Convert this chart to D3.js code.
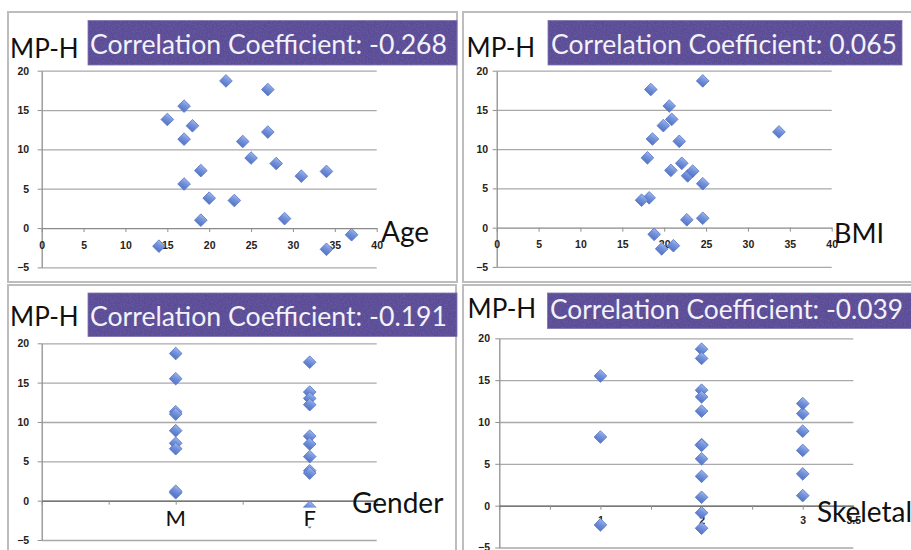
<!DOCTYPE html>
<html>
<head>
<meta charset="utf-8">
<script src="https://cdn.jsdelivr.net/npm/d3@7"></script>
<style>
  html, body { margin: 0; padding: 0; background: #fff; }
  svg { display: block; }
</style>
</head>
<body>
<svg id="chart" width="911" height="550"></svg>
<script>
// ---- data (one entry per subject) ----
const mph      = [13.8, 15.5, 13.0, 11.3, 5.6, 7.3, 3.8, 1.0, 18.7, 11.0, 8.9, 3.5, 17.6, 12.2, 8.2, 1.2, 6.6, 7.2, -2.3, -2.7, -0.85];
const age      = [15, 17, 18, 17, 17, 19, 20, 19, 22, 24, 25, 23, 27, 27, 28, 29, 31, 34, 14, 34, 37];
const bmi      = [20.9, 20.6, 19.9, 18.6, 24.6, 20.8, 18.2, 22.7, 24.6, 21.8, 18.0, 17.3, 18.4, 33.7, 22.1, 24.6, 22.8, 23.4, 21.1, 19.7, 18.8];
const gender   = ["F","M","F","M","F","M","F","M","M","M","M","F","F","F","F","M","M","F","F","F","F"];
const skeletal = [2, 1, 2, 2, 2, 2, 3, 2, 2, 3, 3, 2, 2, 3, 1, 3, 3, 2, 1, 2, 2];

const genderCategories = ["M", "F"];
const skeletalTickLabels = ["1", "2", "3", "3.5"];
const yTicks = [-5, 0, 5, 10, 15, 20];
const ageTicks = [0, 5, 10, 15, 20, 25, 30, 35, 40];
const yLabel = "MP-H";
const correlations = ["-0.268", "0.065", "-0.191", "-0.039"];
const xLabels = ["Age", "BMI", "Gender", "Skeletal"];

const genderValue = g => genderCategories.indexOf(g) + 1;

const svg = d3.select("#chart");
const defs = svg.append("defs");

const grad = defs.append("linearGradient").attr("id", "dia").attr("x1", 0).attr("y1", 0).attr("x2", 0.3).attr("y2", 1);
grad.append("stop").attr("offset", "0%").attr("stop-color", "#a3bbef");
grad.append("stop").attr("offset", "45%").attr("stop-color", "#7896dd");
grad.append("stop").attr("offset", "100%").attr("stop-color", "#5a7acb");

const f = defs.append("filter").attr("id", "noise").attr("x", 0).attr("y", 0).attr("width", "100%").attr("height", "100%");
f.append("feTurbulence").attr("type", "fractalNoise").attr("baseFrequency", 0.7).attr("numOctaves", 2).attr("seed", 4).attr("result", "t");
f.append("feColorMatrix").attr("in", "t").attr("type", "matrix")
  .attr("values", "0 0 0 0 1  0 0 0 0 1  0 0 0 0 1  0.55 0 0 0 -0.2").attr("result", "n");
f.append("feComposite").attr("in", "n").attr("in2", "SourceGraphic").attr("operator", "in");

// ---- panel frames ----
const frames = [
  {x: 8, y: 12, w: 449, h: 270},
  {x: 463, y: 12, w: 460, h: 270},
  {x: 8, y: 285, w: 448, h: 280},
  {x: 463, y: 285, w: 460, h: 280}
];
svg.selectAll("rect.frame").data(frames).join("rect")
  .attr("class", "frame")
  .attr("x", d => d.x).attr("y", d => d.y).attr("width", d => d.w).attr("height", d => d.h)
  .attr("fill", "#fff").attr("stroke", "#bdbdbd").attr("stroke-width", 2);

// ---- panels config built from data ----
const panels = [
  { xs: age, xDomain: [0, 40], xRange: [41.7, 376.7], yRange: [267.4, 70.7],
    xTicks: ageTicks, xFmt: d => d, yPad: 8.5, zeroColor: "#8a8a8a",
    box: {x: 88, y: 20.5, w: 369, h: 44.5, tx: 90, tw: 357, ty: 53.5},
    mph: {x: 10, y: 57.5}, xl: {x: 381, y: 241.5, size: 28}, xLabelDy: 13 },
  { xs: bmi, xDomain: [0, 40], xRange: [496.7, 831.7], yRange: [266.9, 70.7],
    xTicks: ageTicks, xFmt: d => d, yPad: 4.5, zeroColor: "#8a8a8a",
    box: {x: 548, y: 20.5, w: 354, h: 44.5, tx: 551, tw: 346, ty: 53.5},
    mph: {x: 466.5, y: 56.8}, xl: {x: 834, y: 243, size: 27}, xLabelDy: 13 },
  { xs: gender.map(genderValue), xDomain: [0, 2.5], xRange: [41.7, 376.7], yRange: [540, 343.3],
    xTicks: [0, 0.5, 1, 1.5, 2, 2.5], xFmt: () => "", yPad: 8.5, zeroColor: "#4a4a4a",
    box: {x: 88, y: 293, w: 369, h: 43.5, tx: 90, tw: 357, ty: 325.5},
    mph: {x: 10, y: 325.8}, xl: {x: 352, y: 513, size: 28}, xLabelDy: 13 },
  { xs: skeletal, xDomain: [0, 3.5], xRange: [499.3, 853.3], yRange: [547.5, 338.3],
    xTicks: [0, 0.5, 1, 1.5, 2, 2.5, 3, 3.5],
    xFmt: d => skeletalTickLabels.includes(String(d)) ? String(d) : "", yPad: 5.3, zeroColor: "#4a4a4a",
    box: {x: 547.5, y: 293, w: 364, h: 35.5, tx: 550, tw: 353, ty: 318.5},
    mph: {x: 467.5, y: 317.5}, xl: {x: 817, y: 522, size: 28}, xLabelDy: 11 }
];

const tickFont = "'Liberation Sans', Arial, sans-serif";
const bigFont = "Lato, 'Open Sans', sans-serif";

panels.forEach((p, i) => {
  const x = d3.scaleLinear().domain(p.xDomain).range(p.xRange);
  const y = d3.scaleLinear().domain([-5, 20]).range(p.yRange);
  const g = svg.append("g");

  // gridlines
  const grid = g.append("g").attr("transform", `translate(${p.xRange[0]},0)`)
    .call(d3.axisLeft(y).tickValues(yTicks.filter(t => t !== 0)).tickSize(-(p.xRange[1] - p.xRange[0])).tickFormat(""));
  grid.select(".domain").remove();
  grid.selectAll("line").attr("stroke", "#a9a9a9").attr("stroke-width", 1.3);

  // y axis
  const ya = g.append("g").attr("transform", `translate(${p.xRange[0]},0)`)
    .call(d3.axisLeft(y).tickValues(yTicks).tickSize(4).tickPadding(p.yPad).tickSizeOuter(0));
  ya.select(".domain").attr("stroke", "#8f8f8f").attr("stroke-width", 1.3);
  ya.selectAll("line").attr("stroke", "#8f8f8f");
  ya.selectAll("text").attr("font-family", tickFont).attr("font-weight", "bold").attr("font-size", 10.5).attr("fill", "#262219");

  // x axis at y = 0
  const xa = g.append("g").attr("transform", `translate(0,${y(0)})`)
    .call(d3.axisBottom(x).tickValues(p.xTicks).tickFormat(p.xFmt).tickSize(4).tickPadding(p.xLabelDy - 4).tickSizeOuter(0));
  xa.select(".domain").attr("stroke", p.zeroColor).attr("stroke-width", 1.3);
  xa.selectAll("line").attr("stroke", "#8f8f8f");
  xa.selectAll("text").attr("font-family", tickFont).attr("font-weight", "bold").attr("font-size", 10.5).attr("fill", "#262219");

  // points
  g.append("g").selectAll("path").data(mph).join("path")
    .attr("d", d3.symbol(d3.symbolSquare, 80))
    .attr("transform", (d, k) => `translate(${x(p.xs[k])},${y(d)}) rotate(45)`)
    .attr("fill", "url(#dia)").attr("stroke", "#5776c4").attr("stroke-width", 0.8);

  // gender category labels
  if (i === 2) {
    genderCategories.forEach((c, k) => {
      g.append("rect").attr("x", x(k + 1) - 13).attr("y", y(0) + 7).attr("width", 26).attr("height", 19).attr("fill", "#fff");
      g.append("text").attr("x", x(k + 1)).attr("y", y(0) + 25).attr("text-anchor", "middle")
        .attr("font-family", bigFont).attr("font-size", 22).attr("fill", "#111").text(c);
    });
  }

  // correlation box
  const b = p.box;
  svg.append("rect").attr("x", b.x).attr("y", b.y).attr("width", b.w).attr("height", b.h)
    .attr("fill", "#5a4b96").attr("stroke", "#7d72aa").attr("stroke-width", 0.8);
  svg.append("rect").attr("x", b.x).attr("y", b.y).attr("width", b.w).attr("height", b.h)
    .attr("fill", "#fff").attr("filter", "url(#noise)").attr("opacity", 0.35);
  svg.append("text").attr("x", b.tx).attr("y", b.ty)
    .attr("font-family", bigFont).attr("font-size", 26).attr("fill", "#f3f2f9")
    .attr("textLength", b.tw).attr("lengthAdjust", "spacingAndGlyphs")
    .text("Correlation Coefficient: " + correlations[i]);

  // axis titles
  svg.append("text").attr("x", p.mph.x).attr("y", p.mph.y)
    .attr("font-family", bigFont).attr("font-size", 26).attr("fill", "#111").text(yLabel);
  svg.append("text").attr("x", p.xl.x).attr("y", p.xl.y)
    .attr("font-family", bigFont).attr("font-size", p.xl.size).attr("fill", "#111").text(xLabels[i]);
});
</script>
</body>
</html>
